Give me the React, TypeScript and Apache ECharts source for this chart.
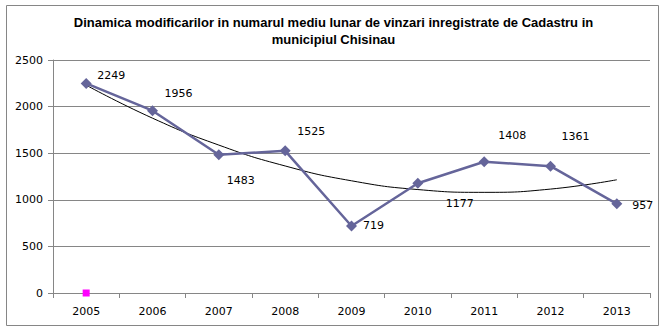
import React, { useEffect, useRef } from "react";
import * as echarts from "echarts";

const years = ["2005", "2006", "2007", "2008", "2009", "2010", "2011", "2012", "2013"];
const sales = [2249, 1956, 1483, 1525, 719, 1177, 1408, 1361, 957];
const trend = [2230, 1876, 1587, 1363, 1204, 1110, 1080, 1115, 1215];
const pinkMarker = [0, null, null, null, null, null, null, null, null];
const labelOffsets: [number, number][] = [
  [25, -8], [26, -17], [22, 26], [26, -19], [22, 0], [42, 20], [28, -26], [25, -30], [26, 2],
];
const titleText = "Dinamica modificarilor in numarul mediu lunar de vinzari inregistrate de Cadastru in\nmunicipiul Chisinau";

export default function App() {
  const ref = useRef<HTMLDivElement>(null);
  useEffect(() => {
    const chart = echarts.init(ref.current!, null, { renderer: "svg" });
    const font = "DejaVu Sans";
    chart.setOption({
      animation: false,
      backgroundColor: "#ffffff",
      title: {
        text: titleText,
        left: "center",
        top: 9,
        textStyle: {
          fontFamily: "Liberation Sans Narrow, Liberation Sans, Arial",
          fontWeight: "bold",
          fontSize: 13,
          lineHeight: 17,
          color: "#000",
        },
      },
      graphic: [
        {
          type: "rect",
          shape: { x: 6.5, y: 5.5, width: 652, height: 320 },
          style: { fill: "none", stroke: "#868686", lineWidth: 1 },
          silent: true,
          z: -1,
        },
      ],
      grid: { left: 53, right: 17, top: 60, bottom: 38 },
      xAxis: {
        type: "category",
        data: years,
        boundaryGap: true,
        axisLine: { lineStyle: { color: "#868686", width: 1 } },
        axisTick: { show: true, alignWithLabel: false, length: 5, lineStyle: { color: "#868686" } },
        axisLabel: { color: "#000", fontFamily: font, fontSize: 11, margin: 13 },
      },
      yAxis: {
        type: "value",
        min: 0,
        max: 2500,
        interval: 500,
        axisLine: { show: true, lineStyle: { color: "#868686", width: 1 } },
        axisTick: { show: true, length: 5, lineStyle: { color: "#868686" } },
        axisLabel: {
          color: "#000",
          fontFamily: font,
          fontSize: 11,
          margin: 10,
          formatter: (v: number) => String(v),
        },
        splitLine: { lineStyle: { color: "#868686", width: 1 } },
      },
      series: [
        {
          type: "line",
          data: trend,
          smooth: true,
          symbol: "none",
          lineStyle: { color: "#000", width: 1 },
          z: 3,
        },
        {
          type: "line",
          data: sales.map((v, i) => ({
            value: v,
            label: { offset: labelOffsets[i] },
          })),
          symbol: "diamond",
          symbolSize: 11,
          itemStyle: { color: "#65659A" },
          lineStyle: { color: "#65659A", width: 2.5 },
          label: {
            show: true,
            position: "inside",
            color: "#000",
            fontFamily: font,
            fontSize: 11,
          },
          z: 4,
        },
        {
          type: "line",
          data: pinkMarker,
          symbol: "rect",
          symbolSize: 7,
          showSymbol: true,
          lineStyle: { width: 0 },
          itemStyle: { color: "#FF00FF" },
          z: 5,
        },
      ],
    });
    return () => chart.dispose();
  }, []);
  return (
    <div
      ref={ref}
      style={{ position: "fixed", left: 0, top: 0, width: 667, height: 331 }}
    />
  );
}
